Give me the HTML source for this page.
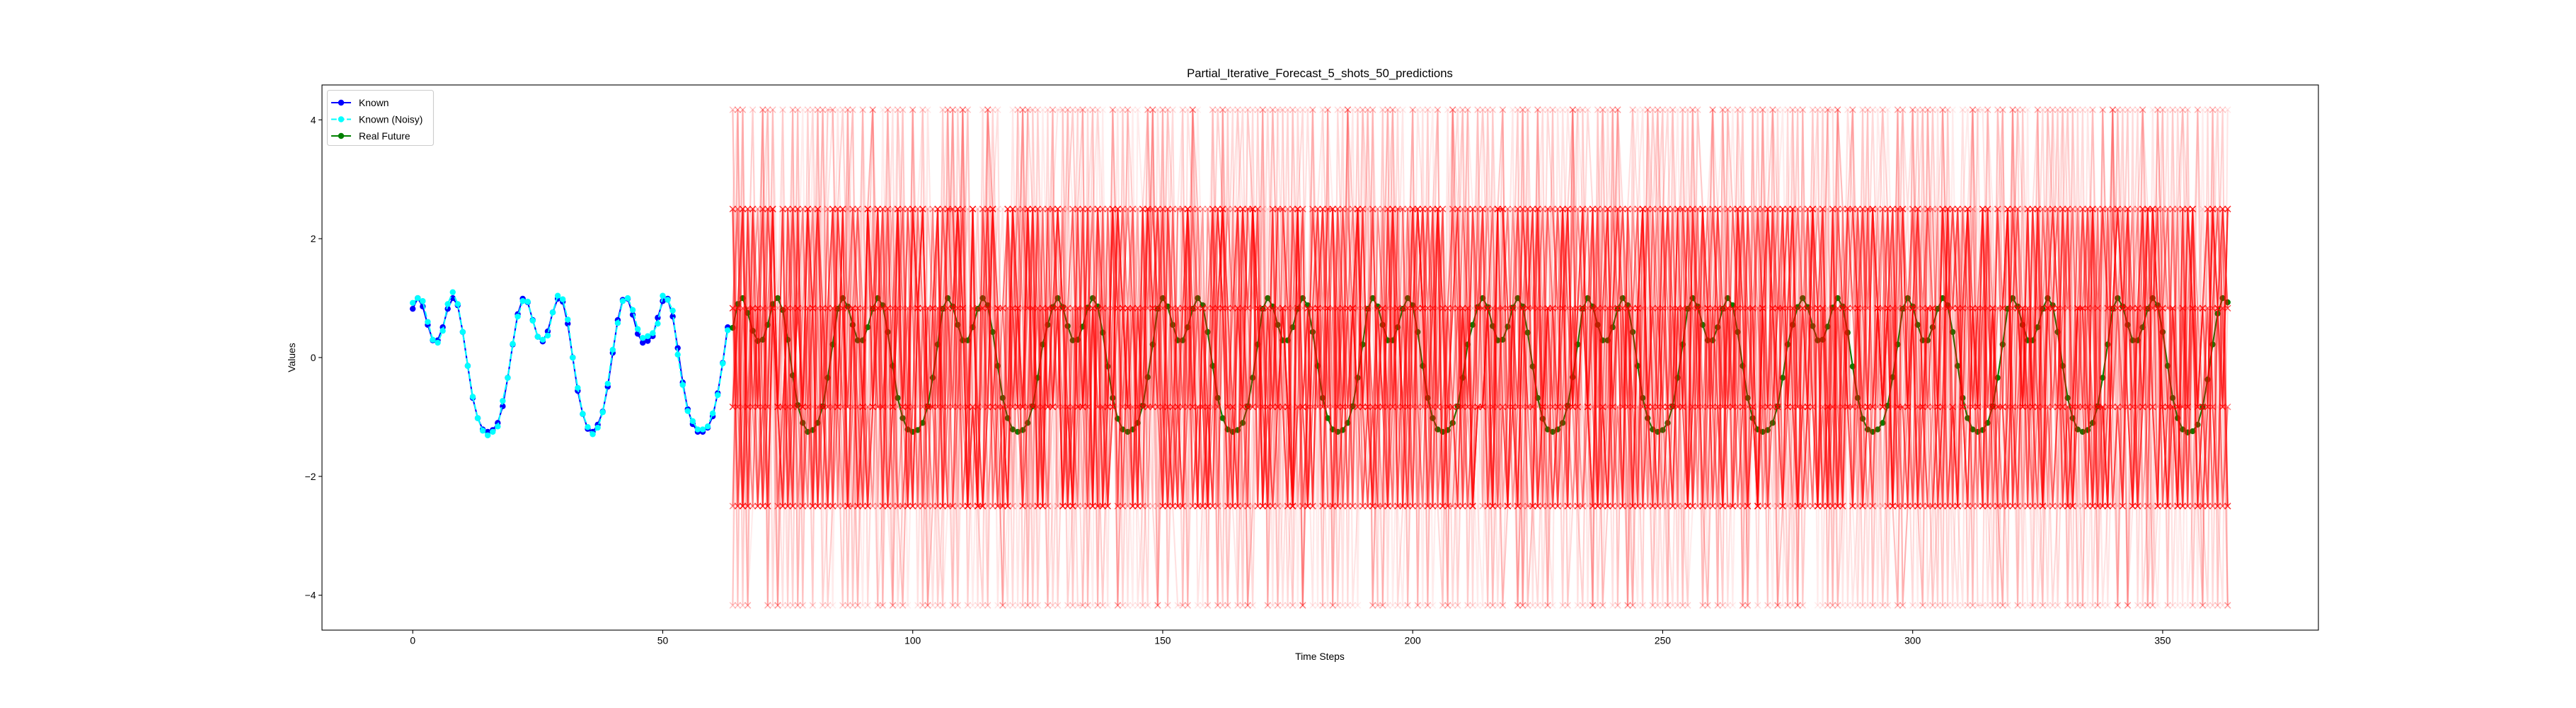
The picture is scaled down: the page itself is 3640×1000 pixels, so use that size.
<!DOCTYPE html>
<html><head><meta charset="utf-8"><style>
html,body{margin:0;padding:0;background:#fff;}
svg{display:block;}
text{font-family:"Liberation Sans","DejaVu Sans",sans-serif;fill:#000;}
</style></head><body>
<svg id="chart" width="3640" height="1000" viewBox="0 0 3640 1000" xmlns="http://www.w3.org/2000/svg">
<rect x="0" y="0" width="3640" height="1000" fill="#fff"/>
<text x="1865" y="109" font-size="16.7" text-anchor="middle">Partial_Iterative_Forecast_5_shots_50_predictions</text>
<g id="plot"></g>
<g id="axes"></g>
<text x="1865" y="932" font-size="13.9" text-anchor="middle">Time Steps</text>
<text x="0" y="0" font-size="13.9" text-anchor="middle" transform="translate(417,505) rotate(-90)">Values</text>
<g id="legend"></g>
</svg>
<script>
const knownValues = [0.82,1.0,0.86,0.55,0.29,0.29,0.51,0.82,1.0,0.88,0.43,-0.14,-0.68,-1.02,-1.21,-1.25,-1.22,-1.10,-0.82,-0.34,0.22,0.73,0.99,0.93,0.63,0.35,0.27,0.44,0.76,0.99,0.94,0.57,0.0,-0.56,-0.95,-1.2,-1.25,-1.13,-0.91,-0.49,0.08,0.63,0.97,0.99,0.72,0.40,0.25,0.28,0.36,0.67,0.95,0.99,0.69,0.16,-0.42,-0.87,-1.12,-1.25,-1.25,-1.18,-0.99,-0.6,-0.09,0.51];
const noisyValues = [0.92,1.0,0.95,0.6,0.3,0.25,0.45,0.9,1.1,0.9,0.43,-0.14,-0.66,-1.02,-1.23,-1.31,-1.25,-1.16,-0.73,-0.34,0.23,0.69,0.95,0.94,0.62,0.35,0.30,0.37,0.76,1.04,0.98,0.64,0.0,-0.51,-0.95,-1.17,-1.29,-1.18,-0.92,-0.44,0.13,0.58,0.95,1.00,0.80,0.48,0.33,0.36,0.41,0.57,1.04,0.97,0.79,0.05,-0.46,-0.9,-1.07,-1.21,-1.21,-1.16,-0.94,-0.63,-0.1,0.46];
const futureStart = 64;
const futureValues = [
0.5,0.9,1.0,0.75,0.45,0.28,0.3,0.55,0.9,1.0,0.8,0.3,-0.3,-0.8,-1.1,-1.25,-1.22,-1.10,-0.82,-0.34,0.22,
0.82,1.0,0.86,0.55,0.29,0.29,0.51,0.82,1.0,0.88,0.43,-0.14,-0.68,-1.02,-1.21,-1.25,-1.22,-1.10,-0.82,-0.34,0.22,
0.82,1.0,0.86,0.55,0.29,0.29,0.51,0.82,1.0,0.88,0.43,-0.14,-0.68,-1.02,-1.21,-1.25,-1.22,-1.10,-0.82,-0.34,0.22,
0.55,
0.85,1.0,0.85,0.53,0.29,0.3,0.52,0.84,1.0,0.86,0.42,-0.15,-0.68,-1.03,-1.21,-1.25,-1.21,-1.10,-0.81,-0.33,0.22,
0.82,1.0,0.86,0.55,0.29,0.29,0.51,0.82,1.0,0.88,0.43,-0.14,-0.68,-1.02,-1.21,-1.25,-1.22,-1.10,-0.82,-0.34,0.22,
0.82,1.0,0.86,0.55,0.29,0.29,0.51,0.82,1.0,0.88,0.43,-0.14,-0.68,-1.02,-1.21,-1.25,-1.22,-1.10,-0.82,-0.34,0.22,
0.82,1.0,0.86,0.55,0.29,0.29,0.51,0.82,1.0,0.88,0.43,-0.14,-0.68,-1.02,-1.21,-1.25,-1.22,-1.10,-0.82,-0.34,0.22,
0.55,
0.85,1.0,0.85,0.53,0.29,0.3,0.52,0.84,1.0,0.86,0.42,-0.15,-0.68,-1.03,-1.21,-1.25,-1.21,-1.10,-0.81,-0.33,0.22,
0.82,1.0,0.86,0.55,0.29,0.29,0.51,0.82,1.0,0.88,0.43,-0.14,-0.68,-1.02,-1.21,-1.25,-1.22,-1.10,-0.82,-0.34,0.22,
0.82,1.0,0.86,0.55,0.29,0.29,0.51,0.82,1.0,0.88,0.43,-0.14,-0.68,-1.02,-1.21,-1.25,-1.22,-1.10,-0.82,-0.34,0.22,
0.55,
0.85,1.0,0.85,0.53,0.29,0.3,0.52,0.84,1.0,0.86,0.42,-0.15,-0.68,-1.03,-1.21,-1.25,-1.21,-1.10,-0.81,-0.33,0.22,
0.82,1.0,0.86,0.55,0.29,0.29,0.51,0.82,1.0,0.88,0.43,-0.14,-0.68,-1.02,-1.21,-1.25,-1.22,-1.10,-0.82,-0.34,0.22,
0.82,1.0,0.86,0.55,0.29,0.29,0.51,0.82,1.0,0.88,0.43,-0.14,-0.68,-1.02,-1.21,-1.25,-1.22,-1.10,-0.82,-0.34,0.22,
0.82,1.0,0.86,0.55,0.29,0.29,0.51,0.82,1.0,0.88,0.43,-0.14,-0.68,-1.02,-1.21,-1.26,-1.24,-1.13,-0.83,-0.37,0.22,
0.74,1.0,0.93];
const predLevels = [-4.17,-2.5,-0.83,0.83,2.5,4.17];
const predAlphas = [0.55,0.5,0.2,0.45,0.18,0.45,0.15,0.4,0.15,0.12,0.4,0.12,0.1,0.35,0.1,0.08,0.35,0.08];
const predCodes = [
"2314231432 4123243132 3241321423 1324231342 2413243121 3423142312 4132243213 2314324132 3142231423 2431321432 1324423132 3214231324 4231324213 2143231432 3412342312 2314213243 4123324132 3241213423 1342324213 2413132432 3124243123 4231321342 1432234213 2341423123 3214132432 4132241323 2413324123 3142213432 1324432132 2431231324 3213424132",
"3241324132 1423231423 4132312432 2314243131 3421134232 1243324214 2314231342 4231142323 1324321432 3412234131 2143413242 3214231342 4123142323 2341324213 1432213243 3124432132 2413123423 4231342314 1324213242 3142431323 2431213432 1342324132 4213132423 2314423132 3124213423 4231341232 1423232413 3214142323 2341413221 4132324312 1243231423",
"2413521430 3142241352 1324513241 4231024314 3152413243 2413341502 3241231453 1432024132 4213523142 2341314205 1432241353 3214032413 4123251342 2431342130 3512241324 1324413502 4231324153 2143012432 3421253413 1234413205 4312231452 3024142314 2413531243 1342234105 3124412352 4231032413 2143351424 3412142035 1324253142 4213324130 2341512432",
"4132312342 2314243121 3241132434 1423421323 2134342141 4321213243 3142324132 2413132413 1324243214 4231312342 3412241323 2143413231 1432324214 3214142343 4123231412 2341423132 1324312423 4213241314 3142132432 2431423213 1243314232 3421232141 4132143223 2314321434 3241214312 1423342132 4312123423 2143431214 3124214332 1432342141 4231213423",
"5230413251 2304152430 1453203142 4205314250 3142053421 0531241352 2413502314 5031243025 1425304213 3052413540 2430152314 4153024305 0325142531 3512403241 1240532413 4302513024 2514230451 0341524320 3205142053 5124035241 1403252430 4230514325 0512430241 3425013524 2053142403 1534205312 4203513042 0352412530 3140253214 5213042350 2430512341",
"1342431242 3214123431 2431342123 4123214342 1324431213 3241124324 2413343121 4132212434 3214434212 1423121343 2341432141 4312213423 1243342312 3124421324 2431213242 4213342131 1342124324 3421431213 2134213424 4312342131 1423213243 3241124312 2314431243 4132213421 1243342132 3412124324 2143431212 4321213434 1234342121 3142124343 2413431214",
"0523412503 4150324152 2415032451 3502415320 1243505241 5034214350 3415023142 0251434025 4320512351 2154304213 5032415024 1405325142 3250413250 0425135042 4513024315 2034512403 1520434251 3405215030 5142034524 0325413052 4251304215 1503425140 3024512353 5410320425 2305143250 0415325241 4352014305 1240535124 3501423052 2435104213 5023412540",
"3412134242 1243421313 4321243124 2134312432 3243124141 1412343223 4123231314 2341412432 1234324131 3421143242 2143231324 4312412313 1324321242 3241134431 2413423123 4132312434 1423243212 3214132343 2341421231 4123234314 1342312423 3421243131 2134321442 4312134223 1243432131 3124213424 2431342113 4213124342 1342431231 3241213424 2314342131",
"4051234520 2315042135 5240315024 0432512403 3105243521 1542030415 4230515230 0514324051 2345102542 5023413051 1452035240 3024512315 0531243402 4250135123 2103452504 5342013250 1025434013 3540213542 0213545031 4352102413 2504315240 1340524135 5013242503 3425015342 0152434021 4230513504 2513402153 1402535240 5034213415 3241050324 0523413152",
"2504135240 5031423501 1425302453 4350124032 0243515240 3512043125 5023412504 1450325341 4132502310 0541324053 2305415032 5143025241 3025413502 0452314150 4213502435 1530243025 3402515341 5214030523 0325452103 4153025412 2430513054 1052434250 3540213413 0213545203 5342103425 2105434051 4520312530 0341525243 3254013502 1503425041 4032512354",
"4213342131 2341213424 1432431213 3124124342 4231343121 1342214324 3214431212 2413124343 4132342121 1243213434 3421431212 2134124343 4312342121 1423213434 3241124312 2314431243 4123213421 1342342132 3412124324 2143431212 4321213434 1234342121 3142124343 2413431214 4231213423 1324342131 3214124342 2431431213 4123213424 1342342131 3241124342",
"3150425032 0425130524 5203412350 1534025142 4012535024 2345104253 0521343015 5130425240 3402153512 1253405320 4530214053 0214353241 2405135402 5042314125 1320545032 4153023405 0432512150 3204153524 5413020341 1052435240 2540313052 4135024513 0325415034 5210342450 1453025213 3024513542 0512435021 4340215350 2153042413 5402315024 1035243150",
"5041324053 1350245142 4205135320 0532412405 3415025134 2053415240 5320143502 1245305341 4013525023 0354215143 2540132405 5102435320 3425014253 0253514041 4130523512 1504235024 3241053145 5032412530 2415304213 0523145052 4301525340 1250434125 3542013502 0134525241 5240310453 2403515023 4015234150 1532402513 3250145032 0425313524 5103424051",
"2341423132 4132134213 1243312424 3421241312 2314423141 4123132324 1432341213 3214213432 2143432121 4312124343 1324341212 3241213434 2413432121 4132124342 1342341213 3421213424 2134432131 4213124342 1342341213 3124213424 2431432131 4213124312 1324341243 3142213421 2413432132 4321124324 1234341212 3412213434 2143432121 4231124343 1324341212",
"0351425043 5214030521 2530414352 4103525240 1425302513 3540214035 0213455142 5032412503 2415305241 4350123052 1025434215 3514020453 0243515320 5132402541 2405135023 4051324150 1530243542 3204515031 0452132450 5213404325 2340515142 4125032503 1503425240 3042513152 0521343405 5340212053 2105434521 4253015030 1430525243 3512043105 0245134352",
"4520135241 2043514305 5314020453 0235415124 3401525032 1542034250 4053212541 2340515302 5102435043 0425314251 3240513520 1514032405 4035243152 2502415034 5143203541 0324512053 3450214325 1203545140 4532102435 2015434053 5340213520 0453125341 3124504213 1530423052 4205314534 2541035120 0312545243 5024313052 1453025140 3240515324 0135242503",
"3124213442 1432341221 4213432134 2341124313 3412341242 1243213431 4321432124 2134124313 3241341242 1324213431 4132432124 2413124313 3142341242 1423213431 4231432124 2314124313 3421341242 1234213431 4312432124 2143124313 3214341242 1342213431 4123432124 2431124313 3124341242 1432213431 4213432124 2341124313 3412341242 1243213431 4321432124",
"1504325041 3250415324 0413525130 5231402453 2045135302 4352012541 1530424035 3205413152 0542315024 5124035241 2403512530 4150324053 1325405142 3541023405 0214535320 5432012451 2150434025 4305215342 1042535130 3524102453 0351425204 5210434053 2543102315 4025315142 1340524053 3512043215 0235415430 5140325024 2453102351 4015234520 1532405243"
];
const xTicks = [0,50,100,150,200,250,300,350];
const yTicks = [-4,-2,0,2,4];
const yTickLabels = ["\u22124","\u22122","0","2","4"];

const NS = "http://www.w3.org/2000/svg";
const AX = {left:455, right:3276, top:120, bottom:890};
const XMIN = -18.15, XMAX = 381.15, YMIN = -4.587, YMAX = 4.587;
function xs(t){ return AX.left + (t - XMIN) / (XMAX - XMIN) * (AX.right - AX.left); }
function ys(v){ return AX.bottom - (v - YMIN) / (YMAX - YMIN) * (AX.bottom - AX.top); }
function mk(tag, attrs, parent){
  const e = document.createElementNS(NS, tag);
  for (const k in attrs) e.setAttribute(k, attrs[k]);
  parent.appendChild(e);
  return e;
}
const plot = document.getElementById("plot");
const axes = document.getElementById("axes");
const legend = document.getElementById("legend");

const cp = mk("clipPath", {id:"clip"}, plot);
mk("rect", {x:AX.left, y:AX.top, width:AX.right-AX.left, height:AX.bottom-AX.top}, cp);

function seriesLine(vals, start, color, dash, name){
  const pts = vals.map((v,i)=> xs(start+i).toFixed(2)+","+ys(v).toFixed(2)).join(" ");
  const pl = mk("polyline", {points:pts, fill:"none", stroke:color, "stroke-width":2.1, "stroke-linejoin":"round"}, plot);
  if (dash) pl.setAttribute("stroke-dasharray", dash);
  
  
  const g = mk("g", {fill:color}, plot);
  
  
  vals.forEach((v,i)=>{
    const c = mk("circle", {cx:xs(start+i).toFixed(2), cy:ys(v).toFixed(2), r:4.2}, g);
    
    
  });
}
seriesLine(knownValues, 0, "#0000ff", null, "known");
seriesLine(noisyValues, 0, "#00ffff", "7.7,3.3", "known-noisy");
seriesLine(futureValues, futureStart, "#008000", null, "real-future");

const predGroup = mk("g", {"clip-path":"url(#clip)"}, plot);


predCodes.forEach((code, si)=>{
  const digits = code.replace(/\s/g, "").slice(0, futureValues.length);
  const vals = digits.split("").map(d => predLevels[+d]);
  const alpha = predAlphas[si];
  const pts = vals.map((v,i)=> xs(futureStart+i).toFixed(2)+","+ys(v).toFixed(2)).join(" ");
  const pl = mk("polyline", {points:pts, fill:"none", stroke:"#ff0000", "stroke-opacity":alpha, "stroke-width":2.1, "stroke-linejoin":"round"}, predGroup);
  
  
  let d = "";
  vals.forEach((v,i)=>{
    const x = xs(futureStart+i), y = ys(v), s = 4.2;
    d += "M"+(x-s).toFixed(1)+" "+(y-s).toFixed(1)+"L"+(x+s).toFixed(1)+" "+(y+s).toFixed(1)+"M"+(x-s).toFixed(1)+" "+(y+s).toFixed(1)+"L"+(x+s).toFixed(1)+" "+(y-s).toFixed(1);
  });
  const mp = mk("path", {d:d, stroke:"#ff0000", "stroke-opacity":alpha, "stroke-width":1.4, fill:"none"}, predGroup);
  
  
});

const frame = mk("rect", {x:AX.left, y:AX.top, width:AX.right-AX.left, height:AX.bottom-AX.top, fill:"none", stroke:"#000", "stroke-width":1.1}, axes);


xTicks.forEach(t=>{
  const x = xs(t);
  const tk = mk("line", {x1:x, x2:x, y1:AX.bottom, y2:AX.bottom+4.9, stroke:"#000", "stroke-width":1.1}, axes);
  
  
  const tx = mk("text", {x:x, y:AX.bottom+19.5, "font-size":13.9, "text-anchor":"middle"}, axes);
  tx.textContent = String(t);
  
  
});
yTicks.forEach((v,i)=>{
  const y = ys(v);
  const tk = mk("line", {x1:AX.left-4.9, x2:AX.left, y1:y, y2:y, stroke:"#000", "stroke-width":1.1}, axes);
  
  
  const tx = mk("text", {x:AX.left-8.5, y:y+5, "font-size":13.9, "text-anchor":"end"}, axes);
  tx.textContent = yTickLabels[i];
  
  
});

const lbox = mk("rect", {x:462.5, y:127.5, width:150, height:78, rx:3, fill:"#fff", "fill-opacity":0.8, stroke:"#cccccc", "stroke-width":1.1}, legend);


const legendItems = [["Known","#0000ff",null],["Known (Noisy)","#00ffff","7.7,3.3"],["Real Future","#008000",null]];
legendItems.forEach((it,i)=>{
  const y = 145 + i*23.5;
  const g = mk("g", {}, legend);
  
  
  const ln = mk("line", {x1:468, x2:496, y1:y, y2:y, stroke:it[1], "stroke-width":2.1}, g);
  if (it[2]) ln.setAttribute("stroke-dasharray", it[2]);
  mk("circle", {cx:482, cy:y, r:4.2, fill:it[1]}, g);
  const tx = mk("text", {x:507, y:y+5, "font-size":13.9}, g);
  tx.textContent = it[0];
});
</script>
</body></html>
